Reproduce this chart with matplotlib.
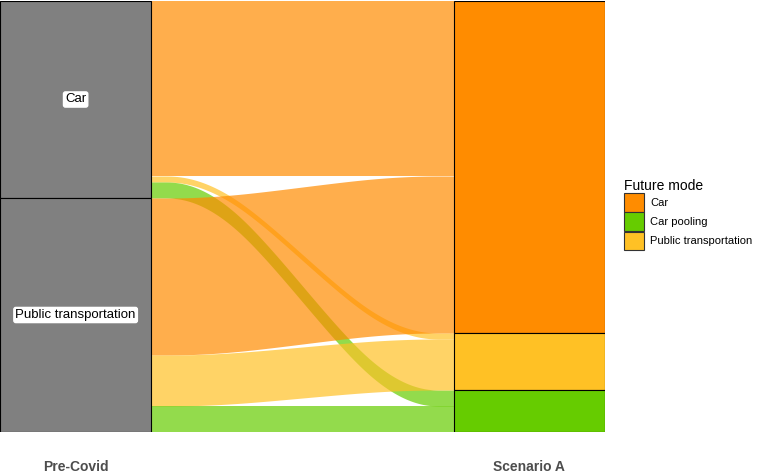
import numpy as np
import matplotlib.pyplot as plt
from matplotlib.patches import Rectangle, Patch

plt.rcParams['font.family'] = ['Liberation Sans', 'DejaVu Sans']

# origin strata (Pre-Covid) and destination strata (Scenario A), top to bottom
origins = ["Car", "Public transportation"]
destinations = ["Car", "Public transportation", "Car pooling"]
# flows[i][j]: origin i -> destination j
flows = np.array([
    [175, 6, 16],
    [157, 51, 26],
])
legend_order = ["Car", "Car pooling", "Public transportation"]
colors = {"Car": "#FF8C00", "Car pooling": "#66CC00", "Public transportation": "#FFC125"}
axis_labels = ["Pre-Covid", "Scenario A"]

total = flows.sum()
w = 1 / 3

fig = plt.figure(figsize=(7.57, 4.73), dpi=100)
ax = fig.add_axes([0, (473 - 432) / 473, 605 / 757, 431 / 473])

left_tot = flows.sum(axis=1)
right_tot = flows.sum(axis=0)
left_start = np.concatenate([[0], np.cumsum(left_tot)[:-1]])
right_start = np.concatenate([[0], np.cumsum(right_tot)[:-1]])


def bspline_curve(n=400, knot=0.25):
    # uniform cubic B-spline through control points with tripled ends (x-spline like)
    px = np.array([0, 0, 0, knot, 1 - knot, 1, 1, 1])
    py = np.array([0, 0, 0, 0, 1, 1, 1, 1])
    M = np.array([[-1, 3, -3, 1], [3, -6, 3, 0], [-3, 0, 3, 0], [1, 4, 1, 0]]) / 6
    xs, ys = [], []
    for k in range(len(px) - 3):
        u = np.linspace(0, 1, n // 5)
        U = np.stack([u ** 3, u ** 2, u, np.ones_like(u)], axis=1)
        B = U @ M
        xs.append(B @ px[k:k + 4])
        ys.append(B @ py[k:k + 4])
    return np.concatenate(xs), np.concatenate(ys)


cx, cy = bspline_curve()
x0, x1 = 1 + w / 2, 2 - w / 2
xs = np.linspace(x0, x1, 300)
s = np.interp((xs - x0) / (x1 - x0), cx, cy)

left_off = left_start.astype(float).copy()
right_off = right_start.astype(float).copy()
pos = {}
for i in range(len(origins)):
    for j in range(len(destinations)):
        pos[(i, j)] = [left_off[i], None]
        left_off[i] += flows[i, j]
for j in range(len(destinations)):
    for i in range(len(origins)):
        pos[(i, j)][1] = right_off[j]
        right_off[j] += flows[i, j]

for i in range(len(origins)):
    for j in range(len(destinations)):
        v = flows[i, j]
        ly, ry = pos[(i, j)]
        top = ly + (ry - ly) * s
        ax.fill_between(xs, top, top + v, color=colors[destinations[j]],
                        alpha=0.7, linewidth=0, zorder=1)

# strata
for i, name in enumerate(origins):
    ax.add_patch(Rectangle((1 - w / 2, left_start[i]), w, left_tot[i],
                           facecolor="#808080", edgecolor="black", lw=0.8, zorder=3))
    ax.text(1, left_start[i] + left_tot[i] / 2, name, ha="center", va="center",
            fontsize=9.5, zorder=4,
            bbox=dict(boxstyle="round,pad=0.12,rounding_size=0.15", fc="white", ec="white"))
for j, name in enumerate(destinations):
    ax.add_patch(Rectangle((2 - w / 2, right_start[j]), w, right_tot[j],
                           facecolor=colors[name], edgecolor="black", lw=0.8, zorder=3))

ax.set_xlim(1 - w / 2, 2 + w / 2)
ax.set_ylim(total, 0)
for sp in ax.spines.values():
    sp.set_visible(False)
ax.set_yticks([])
ax.set_xticks([1, 2])
ax.set_xticklabels(axis_labels, fontsize=10, fontweight="bold", color="#4D4D4D")
ax.tick_params(axis="x", length=0, pad=20)

handles = [Patch(facecolor=colors[k], edgecolor="#333333", lw=0.8) for k in legend_order]
leg = fig.legend(handles, legend_order, loc="upper left",
                 bbox_to_anchor=(616 / 757, 1 - 171 / 473), frameon=False,
                 fontsize=8, title="Future mode", title_fontsize=10,
                 handlelength=1.8, handleheight=2.2, labelspacing=0.05,
                 handletextpad=0.6, alignment="left", borderpad=0.2)

fig.savefig("out.png", dpi=100)
